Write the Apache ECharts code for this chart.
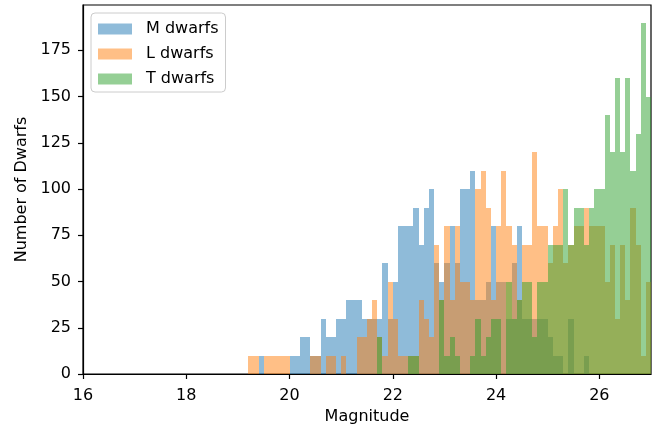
<!DOCTYPE html>
<html><head><meta charset="utf-8">
<script src="https://cdn.jsdelivr.net/npm/echarts@6/dist/echarts.min.js"></script>
<style>html,body{margin:0;padding:0;background:#fff}#c{width:665px;height:428px}</style>
</head><body><div id="c"></div>
<script>
// Histogram bins: lower edge of first bin and bin width (magnitudes)
const firstBin = 19.2;
const binWidth = 0.1;
// counts per bin, bins 19.2 ... 26.9
const mDwarfs = [
  0,0,10,0,0,0,0,0,
  10,10,20,20,10,10,30,20,20,30,
  30,40,40,40,30,30,30,30,60,30,
  50,80,80,80,90,70,90,100,60,50,
  60,80,60,100,100,110,40,40,50,80,
  50,50,30,60,80,30,30,30,30,30,
  20,10,10,0,30,0,0,10,0,0,
  0,0,0,0,0,0,0,0,0,0];
const lDwarfs = [
  10,10,0,10,10,10,10,10,
  0,0,0,0,10,10,0,10,10,0,
  10,0,0,20,20,30,40,20,10,50,
  30,10,10,10,10,40,30,20,70,40,
  80,40,80,50,50,40,100,110,90,40,
  80,110,80,70,40,70,70,120,80,80,
  60,80,100,60,70,80,80,90,80,80,
  80,50,70,30,70,40,90,70,10,50];
const tDwarfs = [
  0,0,0,0,0,0,0,0,
  0,0,0,0,0,0,0,0,0,0,
  0,0,0,0,0,0,0,20,0,0,
  0,0,0,10,10,0,0,0,0,40,
  10,20,10,0,0,10,30,10,20,30,
  30,0,50,30,40,50,50,20,50,50,
  70,70,70,100,70,90,90,70,90,100,
  100,140,120,160,120,160,110,130,190,150];
const seriesNames = ['M dwarfs','L dwarfs','T dwarfs'];
const seriesColors = ['rgba(31,119,180,0.5)','rgba(255,127,14,0.5)','rgba(44,160,44,0.5)'];
const xTicks = [16,18,20,22,24,26];
const yTicks = [0,25,50,75,100,125,150,175];

function toBins(vals){
  return vals.map((v,i)=>{
    const x0 = Math.round((firstBin + i*binWidth)*10)/10;
    const x1 = Math.round((x0 + binWidth)*10)/10;
    return [x0, x1, v];
  });
}
function makeSeries(name, vals, color){
  return {
    name, type:'custom', clip:true,
    itemStyle:{color},
    encode:{x:[0,1], y:2},
    data: toBins(vals),
    renderItem(params, api){
      const v = api.value(2);
      if(!v) return null;
      const p0 = api.coord([api.value(0), 0]);
      const p1 = api.coord([api.value(1), v]);
      const x = Math.round(p0[0]), xr = Math.round(p1[0]);
      const yb = Math.round(p0[1]), yt = Math.round(p1[1]);
      return {type:'rect', shape:{x, y:yt, width:xr-x, height:yb-yt}, style:{fill:color}};
    }
  };
}
const chart = echarts.init(document.getElementById('c'), null, {renderer:'canvas'});
const font = 'DejaVu Sans';
chart.setOption({
  animation:false,
  backgroundColor:'#fff',
  grid:{left:83, right:14, top:5, bottom:54, outerBoundsMode:'none', containLabel:false,
    show:true, borderColor:'#000', borderWidth:1.2, backgroundColor:'transparent'},
  legend:{
    left:91, top:13, orient:'vertical',
    padding:[8,7,5,7], itemGap:9, itemWidth:34, itemHeight:11,
    backgroundColor:'rgba(255,255,255,0.8)', borderColor:'#cccccc', borderWidth:1, borderRadius:4,
    icon:'rect',
    formatter: name => '{t|' + name + '}',
    textStyle:{fontFamily:font, fontSize:16, color:'#000', lineHeight:16,
      rich:{t:{fontFamily:font, fontSize:16, color:'#000', lineHeight:16, padding:[0,0,0,9]}}},
    data: seriesNames
  },
  xAxis:{
    type:'value', min:16, max:27, interval:2,
    name:'Magnitude', nameLocation:'middle', nameGap:34,
    nameTextStyle:{fontFamily:font, fontSize:16, color:'#000'},
    axisLine:{show:true, onZero:false, lineStyle:{color:'#000', width:1.2}},
    axisTick:{show:true, length:5, lineStyle:{color:'#000', width:1.2}, customValues:xTicks},
    axisLabel:{fontFamily:font, fontSize:16, color:'#000', margin:14, customValues:xTicks},
    splitLine:{show:false}
  },
  yAxis:{
    type:'value', min:0, max:199.5, interval:25,
    name:'Number of Dwarfs', nameLocation:'middle', nameGap:52, nameRotate:90,
    nameTextStyle:{fontFamily:font, fontSize:16, color:'#000'},
    axisLine:{show:true, onZero:false, lineStyle:{color:'#000', width:1.2}},
    axisTick:{show:true, length:5, lineStyle:{color:'#000', width:1.2}, customValues:yTicks},
    axisLabel:{fontFamily:font, fontSize:16, color:'#000', margin:12, customValues:yTicks},
    splitLine:{show:false}
  },
  series:[
    makeSeries(seriesNames[0], mDwarfs, seriesColors[0]),
    makeSeries(seriesNames[1], lDwarfs, seriesColors[1]),
    makeSeries(seriesNames[2], tDwarfs, seriesColors[2])
  ]
});
</script></body></html>
